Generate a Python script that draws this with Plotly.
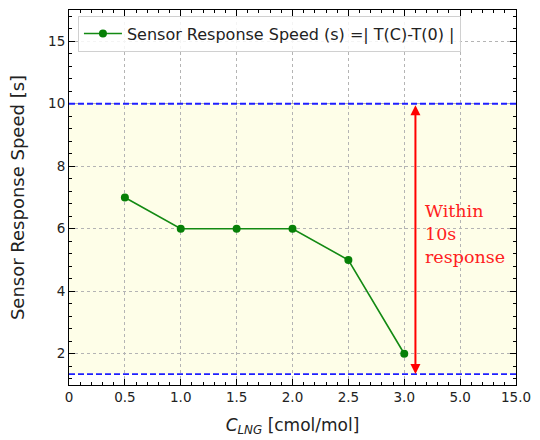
import plotly.graph_objects as go

# Data
conc = [0.5, 1.0, 1.5, 2.0, 2.5, 3.0]
speed = [7, 6, 6, 6, 5, 2]

x_tickvals = [0, 0.5, 1.0, 1.5, 2.0, 2.5, 3.0, 3.5, 4.0]
x_ticktext = ["0", "0.5", "1.0", "1.5", "2.0", "2.5", "3.0", "5.0", "15.0"]
y_tickvals = [2, 4, 6, 8, 10, 12]
y_ticktext = ["2", "4", "6", "8", "10", "15"]

upper_limit = 10
lower_limit = 1.35
arrow_x = 3.1

fig = go.Figure()

# light yellow band
fig.add_shape(type="rect", xref="x", yref="y", x0=0, x1=4, y0=lower_limit, y1=upper_limit,
              fillcolor="#fefee8", line=dict(width=0), layer="below")

fig.add_trace(go.Scatter(
    x=conc, y=speed, mode="lines+markers",
    line=dict(color="#138a13", width=1.6),
    marker=dict(color="#078007", size=8, symbol="circle"),
    name="Sensor Response Speed (s) =| T(C)-T(0) |",
))

for yv in (upper_limit, lower_limit):
    fig.add_shape(type="line", xref="x", yref="y", x0=0, x1=4, y0=yv, y1=yv,
                  line=dict(color="#1f1fff", width=1.8, dash="6px,3px"), layer="above")

# double arrow
fig.add_annotation(x=arrow_x, y=lower_limit, ax=arrow_x, ay=upper_limit,
                   xref="x", yref="y", axref="x", ayref="y",
                   text="", showarrow=True, arrowhead=2, startarrowhead=2,
                   arrowside="end+start", arrowcolor="red", arrowwidth=2,
                   arrowsize=1, startarrowsize=1)
fig.add_annotation(x=3.165, y=5.82, xref="x", yref="y", xanchor="left", yanchor="middle",
                   text="Within<br>10s<br>response", showarrow=False, align="left",
                   font=dict(family="DejaVu Serif", size=17.5, color="#ff2020"))

axis_common = dict(showline=True, linecolor="black", linewidth=1, mirror="allticks",
                   ticks="inside", ticklen=6, tickcolor="black", showgrid=True,
                   gridcolor="#b4b4b4", griddash="dot", gridwidth=1, zeroline=False,
                   tickfont=dict(family="DejaVu Sans", size=13.5, color="#222"))

fig.update_xaxes(range=[0, 4], tickmode="array", tickvals=x_tickvals, ticktext=x_ticktext,
                 minor=dict(ticks="inside", ticklen=3, tick0=0, dtick=0.1, tickcolor="black", showgrid=False),
                 title=dict(text="<i>C<sub>LNG</sub></i> [cmol/mol]",
                            font=dict(family="DejaVu Sans", size=17, color="#222"), standoff=14),
                 **axis_common)
fig.update_yaxes(range=[1, 13], tickmode="array", tickvals=y_tickvals, ticktext=y_ticktext,
                 minor=dict(ticks="inside", ticklen=3, tick0=0, dtick=0.4, tickcolor="black", showgrid=False),
                 title=dict(text="Sensor Response Speed [s]",
                            font=dict(family="DejaVu Sans", size=18, color="#222"), standoff=18),
                 **axis_common)

fig.update_layout(
    width=540, height=440,
    margin=dict(l=69, r=19, t=9, b=54),
    plot_bgcolor="white", paper_bgcolor="white",
    showlegend=True,
    legend=dict(x=0.02, y=0.985, xanchor="left", yanchor="top", itemwidth=38,
                bgcolor="rgba(255,255,255,0.85)", bordercolor="#d0d0d0", borderwidth=1,
                font=dict(family="DejaVu Sans", size=16, color="#222")),
)

fig.write_html("out.html")
